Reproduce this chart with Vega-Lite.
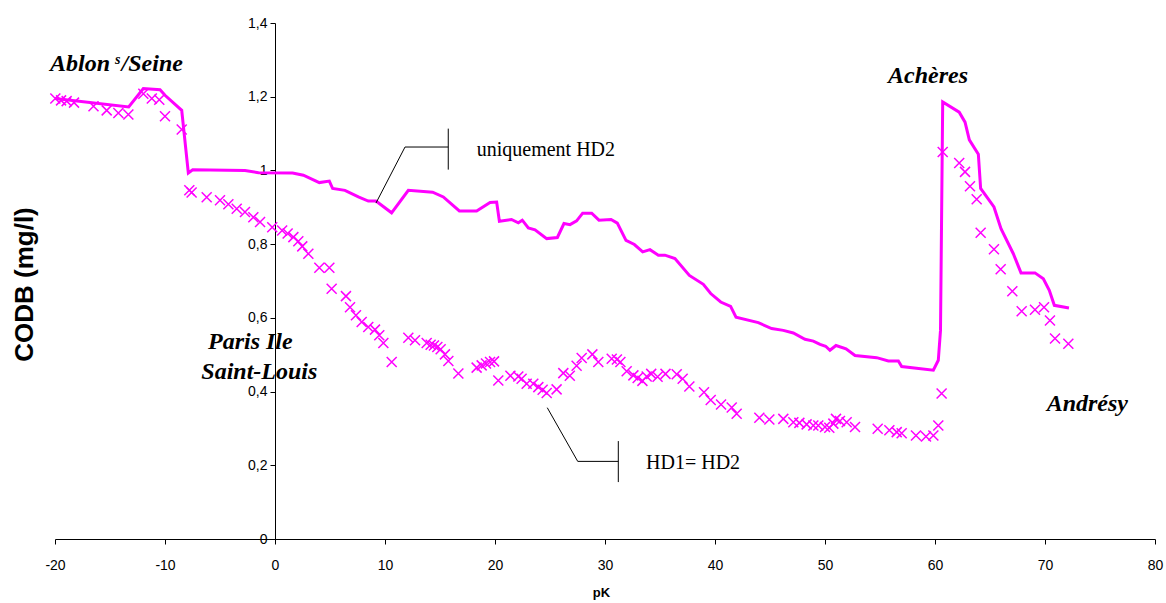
{
  "$schema": "https://vega.github.io/schema/vega-lite/v6.json",
  "width": 1100,
  "height": 516,
  "autosize": {"type": "none"},
  "padding": {"left": 55, "top": 23, "right": 11, "bottom": 64},
  "background": "white",
  "config": {"view": {"stroke": null}, "axis": {"grid": false}},
  "datasets": {
    "hd2": [
      {"pk": -20, "v": 1.195}, {"pk": -13.3, "v": 1.172}, {"pk": -11.97, "v": 1.222}, {"pk": -10.45, "v": 1.219},
      {"pk": -10.0, "v": 1.204}, {"pk": -8.48, "v": 1.163}, {"pk": -7.88, "v": 0.993}, {"pk": -7.48, "v": 1.002},
      {"pk": -2.73, "v": 1.0}, {"pk": -1.5, "v": 0.994}, {"pk": 1.6, "v": 0.993}, {"pk": 2.58, "v": 0.987},
      {"pk": 4.03, "v": 0.967}, {"pk": 4.94, "v": 0.971}, {"pk": 5.24, "v": 0.951}, {"pk": 6.36, "v": 0.946},
      {"pk": 7.58, "v": 0.928}, {"pk": 8.48, "v": 0.917}, {"pk": 9.18, "v": 0.917}, {"pk": 10.6, "v": 0.885},
      {"pk": 12.12, "v": 0.946}, {"pk": 14.33, "v": 0.941}, {"pk": 15.3, "v": 0.928}, {"pk": 16.76, "v": 0.89},
      {"pk": 18.33, "v": 0.89}, {"pk": 19.55, "v": 0.913}, {"pk": 20.15, "v": 0.914}, {"pk": 20.4, "v": 0.862},
      {"pk": 21.5, "v": 0.867}, {"pk": 22.12, "v": 0.858}, {"pk": 22.48, "v": 0.865}, {"pk": 23.03, "v": 0.844},
      {"pk": 23.64, "v": 0.839}, {"pk": 24.7, "v": 0.815}, {"pk": 25.67, "v": 0.818}, {"pk": 26.27, "v": 0.856},
      {"pk": 26.82, "v": 0.853}, {"pk": 27.42, "v": 0.863}, {"pk": 27.97, "v": 0.884}, {"pk": 28.79, "v": 0.884},
      {"pk": 29.45, "v": 0.865}, {"pk": 30.55, "v": 0.867}, {"pk": 31.12, "v": 0.857}, {"pk": 31.91, "v": 0.81},
      {"pk": 32.67, "v": 0.799}, {"pk": 33.43, "v": 0.779}, {"pk": 34.09, "v": 0.785}, {"pk": 34.85, "v": 0.77},
      {"pk": 35.45, "v": 0.77}, {"pk": 36.36, "v": 0.761}, {"pk": 37.67, "v": 0.715}, {"pk": 38.94, "v": 0.691},
      {"pk": 39.61, "v": 0.666}, {"pk": 40.52, "v": 0.643}, {"pk": 41.42, "v": 0.631}, {"pk": 41.91, "v": 0.602},
      {"pk": 43.94, "v": 0.587}, {"pk": 45.15, "v": 0.571}, {"pk": 46.21, "v": 0.566}, {"pk": 47.12, "v": 0.559},
      {"pk": 48.18, "v": 0.542}, {"pk": 48.94, "v": 0.537}, {"pk": 49.55, "v": 0.528}, {"pk": 50.06, "v": 0.523},
      {"pk": 50.45, "v": 0.512}, {"pk": 51.0, "v": 0.525}, {"pk": 51.91, "v": 0.516}, {"pk": 52.73, "v": 0.498},
      {"pk": 54.7, "v": 0.492}, {"pk": 55.76, "v": 0.483}, {"pk": 56.67, "v": 0.483}, {"pk": 56.97, "v": 0.468},
      {"pk": 59.85, "v": 0.458}, {"pk": 60.3, "v": 0.485}, {"pk": 60.5, "v": 0.566}, {"pk": 60.7, "v": 1.186},
      {"pk": 62.2, "v": 1.158}, {"pk": 62.73, "v": 1.131}, {"pk": 63.12, "v": 1.083}, {"pk": 63.94, "v": 1.044},
      {"pk": 64.15, "v": 0.951}, {"pk": 65.36, "v": 0.901}, {"pk": 66.0, "v": 0.842}, {"pk": 67.12, "v": 0.774},
      {"pk": 67.82, "v": 0.722}, {"pk": 69.09, "v": 0.722}, {"pk": 69.85, "v": 0.706}, {"pk": 70.39, "v": 0.675},
      {"pk": 70.85, "v": 0.634}, {"pk": 72.18, "v": 0.627}
    ],
    "hd1": [
      {"pk": -19.97, "v": 1.195}, {"pk": -19.45, "v": 1.19}, {"pk": -18.94, "v": 1.188}, {"pk": -18.27, "v": 1.184},
      {"pk": -16.5, "v": 1.174}, {"pk": -15.3, "v": 1.163}, {"pk": -14.24, "v": 1.156}, {"pk": -13.33, "v": 1.152},
      {"pk": -11.97, "v": 1.208}, {"pk": -11.2, "v": 1.195}, {"pk": -10.52, "v": 1.192}, {"pk": -10.0, "v": 1.147},
      {"pk": -8.48, "v": 1.111}, {"pk": -7.79, "v": 0.946}, {"pk": -7.58, "v": 0.94}, {"pk": -6.21, "v": 0.927},
      {"pk": -5.0, "v": 0.919}, {"pk": -4.24, "v": 0.908}, {"pk": -3.48, "v": 0.896}, {"pk": -2.73, "v": 0.887},
      {"pk": -1.97, "v": 0.873}, {"pk": -1.36, "v": 0.86}, {"pk": -0.25, "v": 0.846}, {"pk": 0.65, "v": 0.837},
      {"pk": 1.15, "v": 0.829}, {"pk": 1.67, "v": 0.819}, {"pk": 2.12, "v": 0.808}, {"pk": 2.48, "v": 0.794},
      {"pk": 3.03, "v": 0.774}, {"pk": 4.03, "v": 0.736}, {"pk": 4.94, "v": 0.736}, {"pk": 5.15, "v": 0.679},
      {"pk": 6.45, "v": 0.659}, {"pk": 6.82, "v": 0.629}, {"pk": 7.36, "v": 0.607}, {"pk": 7.88, "v": 0.589},
      {"pk": 8.48, "v": 0.575}, {"pk": 9.09, "v": 0.568}, {"pk": 9.48, "v": 0.553}, {"pk": 9.85, "v": 0.532},
      {"pk": 10.61, "v": 0.48}, {"pk": 12.12, "v": 0.546}, {"pk": 12.73, "v": 0.539}, {"pk": 13.79, "v": 0.532},
      {"pk": 14.15, "v": 0.527}, {"pk": 14.45, "v": 0.525}, {"pk": 14.76, "v": 0.521}, {"pk": 15.06, "v": 0.515},
      {"pk": 15.45, "v": 0.501}, {"pk": 15.76, "v": 0.483}, {"pk": 16.67, "v": 0.449}, {"pk": 18.33, "v": 0.465},
      {"pk": 18.79, "v": 0.471}, {"pk": 19.18, "v": 0.476}, {"pk": 19.55, "v": 0.48}, {"pk": 19.91, "v": 0.482},
      {"pk": 20.3, "v": 0.43}, {"pk": 21.4, "v": 0.443}, {"pk": 22.12, "v": 0.441}, {"pk": 22.42, "v": 0.435},
      {"pk": 22.88, "v": 0.421}, {"pk": 23.48, "v": 0.421}, {"pk": 23.94, "v": 0.412}, {"pk": 24.33, "v": 0.405},
      {"pk": 24.7, "v": 0.396}, {"pk": 25.6, "v": 0.406}, {"pk": 26.21, "v": 0.45}, {"pk": 26.8, "v": 0.443},
      {"pk": 27.42, "v": 0.47}, {"pk": 27.88, "v": 0.491}, {"pk": 28.85, "v": 0.501}, {"pk": 29.39, "v": 0.48},
      {"pk": 30.61, "v": 0.489}, {"pk": 31.08, "v": 0.487}, {"pk": 31.4, "v": 0.48}, {"pk": 31.97, "v": 0.455},
      {"pk": 32.58, "v": 0.444}, {"pk": 32.97, "v": 0.437}, {"pk": 33.4, "v": 0.429}, {"pk": 33.79, "v": 0.441},
      {"pk": 34.2, "v": 0.448}, {"pk": 34.78, "v": 0.44}, {"pk": 35.5, "v": 0.448}, {"pk": 36.52, "v": 0.447},
      {"pk": 37.06, "v": 0.435}, {"pk": 37.67, "v": 0.414}, {"pk": 39.0, "v": 0.398}, {"pk": 39.61, "v": 0.377},
      {"pk": 40.55, "v": 0.365}, {"pk": 41.52, "v": 0.357}, {"pk": 41.97, "v": 0.34}, {"pk": 44.03, "v": 0.329},
      {"pk": 44.94, "v": 0.324}, {"pk": 46.21, "v": 0.326}, {"pk": 47.12, "v": 0.317}, {"pk": 47.67, "v": 0.315},
      {"pk": 48.33, "v": 0.311}, {"pk": 48.94, "v": 0.308}, {"pk": 49.39, "v": 0.308}, {"pk": 50.0, "v": 0.304},
      {"pk": 50.39, "v": 0.302}, {"pk": 50.76, "v": 0.313}, {"pk": 51.0, "v": 0.326}, {"pk": 51.36, "v": 0.32},
      {"pk": 51.97, "v": 0.317}, {"pk": 52.73, "v": 0.304}, {"pk": 54.79, "v": 0.299}, {"pk": 55.85, "v": 0.295},
      {"pk": 56.52, "v": 0.29}, {"pk": 56.97, "v": 0.287}, {"pk": 58.27, "v": 0.281}, {"pk": 59.18, "v": 0.278},
      {"pk": 59.85, "v": 0.281}, {"pk": 60.3, "v": 0.308}, {"pk": 60.6, "v": 0.395}, {"pk": 60.7, "v": 1.05},
      {"pk": 62.2, "v": 1.02}, {"pk": 62.73, "v": 0.996}, {"pk": 63.18, "v": 0.957}, {"pk": 63.79, "v": 0.922},
      {"pk": 64.15, "v": 0.831}, {"pk": 65.36, "v": 0.786}, {"pk": 65.97, "v": 0.732}, {"pk": 67.03, "v": 0.672},
      {"pk": 67.88, "v": 0.618}, {"pk": 69.09, "v": 0.622}, {"pk": 69.91, "v": 0.629}, {"pk": 70.45, "v": 0.593},
      {"pk": 70.91, "v": 0.544}, {"pk": 72.12, "v": 0.53}
    ],
    "places": [
      {"kind": "big", "pk": -20.45, "v": 1.269, "label": "Ablon"},
      {"kind": "sup", "pk": -14.55, "v": 1.29, "label": "s"},
      {"kind": "big", "pk": -13.95, "v": 1.269, "label": "/Seine"},
      {"kind": "big", "pk": -6.09, "v": 0.5145, "label": "Paris Ile"},
      {"kind": "big", "pk": -6.7, "v": 0.433, "label": "Saint-Louis"},
      {"kind": "big", "pk": 55.73, "v": 1.237, "label": "Achères"},
      {"kind": "big", "pk": 70.15, "v": 0.347, "label": "Andrésy"},
      {"kind": "note", "pk": 18.34, "v": 1.038, "label": "uniquement HD2"},
      {"kind": "note", "pk": 33.73, "v": 0.189, "label": "HD1= HD2"}
    ],
    "callouts": [
      {"seg": "a", "ord": 1, "pk": 9.18, "v": 0.9115},
      {"seg": "a", "ord": 2, "pk": 11.82, "v": 1.0635},
      {"seg": "a", "ord": 3, "pk": 15.75, "v": 1.0635},
      {"seg": "b", "ord": 1, "pk": 15.75, "v": 1.1134},
      {"seg": "b", "ord": 2, "pk": 15.75, "v": 1.0022},
      {"seg": "c", "ord": 1, "pk": 24.75, "v": 0.3563},
      {"seg": "c", "ord": 2, "pk": 27.52, "v": 0.2106},
      {"seg": "c", "ord": 3, "pk": 31.21, "v": 0.2106},
      {"seg": "d", "ord": 1, "pk": 31.21, "v": 0.2657},
      {"seg": "d", "ord": 2, "pk": 31.21, "v": 0.1544}
    ]
  },
  "layer": [
    {
      "data": {"name": "hd2"},
      "mark": {"type": "line", "color": "#FF00FF", "strokeWidth": 3, "clip": false},
      "encoding": {
        "x": {
          "field": "pk", "type": "quantitative",
          "scale": {"domain": [-20, 80], "nice": false, "zero": false},
          "axis": {
            "values": [-20, -10, 0, 10, 20, 30, 40, 50, 60, 70, 80],
            "labelExpr": "toString(datum.value)",
            "title": "pK",
            "titleFont": "Liberation Sans", "titleFontSize": 13, "titleFontWeight": "bold", "titleColor": "#000",
            "titleX": 546, "titleY": 53, "titleBaseline": "middle", "titleAlign": "center",
            "labelFont": "Liberation Sans", "labelFontSize": 14, "labelColor": "#000", "labelPadding": 14,
            "labelFlush": false, "labelOverlap": false,
            "tickSize": 5, "tickColor": "#000", "domainColor": "#000"
          }
        },
        "y": {
          "field": "v", "type": "quantitative",
          "scale": {"domain": [0, 1.4], "nice": false},
          "axis": {
            "values": [0, 0.2, 0.4, 0.6, 0.8, 1, 1.2, 1.4],
            "format": ".1~f",
            "labelExpr": "replace(datum.label, '.', ',')",
            "offset": -220,
            "title": "CODB (mg/l)",
            "titleFont": "Liberation Sans", "titleFontSize": 26, "titleFontWeight": "bold", "titleColor": "#000",
            "titleAngle": -90, "titleX": -251, "titleY": 261, "titleBaseline": "middle", "titleAlign": "center",
            "labelFont": "Liberation Sans", "labelFontSize": 14, "labelColor": "#000", "labelPadding": 3,
            "labelOverlap": false, "labelFlush": false,
            "tickSize": 5, "tickColor": "#000", "domainColor": "#000"
          }
        }
      }
    },
    {
      "data": {"name": "hd1"},
      "mark": {"type": "point", "shape": "M-1,-1L1,1M-1,1L1,-1", "size": 100, "filled": false, "stroke": "#FF00FF", "strokeWidth": 1.5, "opacity": 1},
      "encoding": {
        "x": {"field": "pk", "type": "quantitative"},
        "y": {"field": "v", "type": "quantitative"}
      }
    },
    {
      "data": {"name": "callouts"},
      "mark": {"type": "line", "color": "#000", "strokeWidth": 1},
      "encoding": {
        "x": {"field": "pk", "type": "quantitative"},
        "y": {"field": "v", "type": "quantitative"},
        "detail": {"field": "seg"},
        "order": {"field": "ord"}
      }
    },
    {
      "data": {"name": "places"},
      "transform": [{"filter": "datum.kind === 'big'"}],
      "mark": {"type": "text", "font": "Liberation Serif", "fontSize": 24, "fontWeight": "bold", "fontStyle": "italic", "align": "left", "baseline": "alphabetic", "color": "#000"},
      "encoding": {
        "x": {"field": "pk", "type": "quantitative"},
        "y": {"field": "v", "type": "quantitative"},
        "text": {"field": "label"}
      }
    },
    {
      "data": {"name": "places"},
      "transform": [{"filter": "datum.kind === 'sup'"}],
      "mark": {"type": "text", "font": "Liberation Serif", "fontSize": 14, "fontWeight": "bold", "fontStyle": "italic", "align": "left", "baseline": "alphabetic", "color": "#000"},
      "encoding": {
        "x": {"field": "pk", "type": "quantitative"},
        "y": {"field": "v", "type": "quantitative"},
        "text": {"field": "label"}
      }
    },
    {
      "data": {"name": "places"},
      "transform": [{"filter": "datum.kind === 'note'"}],
      "mark": {"type": "text", "font": "Liberation Serif", "fontSize": 20, "align": "left", "baseline": "alphabetic", "color": "#000"},
      "encoding": {
        "x": {"field": "pk", "type": "quantitative"},
        "y": {"field": "v", "type": "quantitative"},
        "text": {"field": "label"}
      }
    }
  ]
}
